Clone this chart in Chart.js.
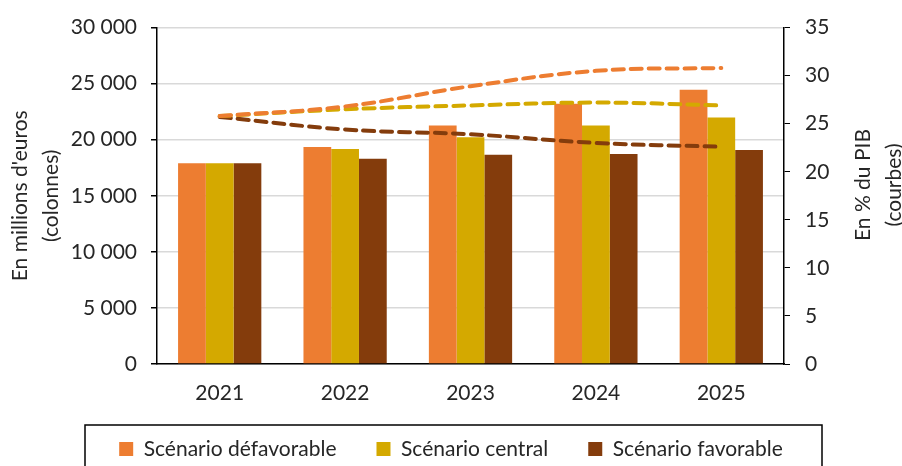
<!DOCTYPE html>
<html><head><meta charset="utf-8">
<script src="https://cdn.jsdelivr.net/npm/chart.js@4"></script>
<style>html,body{margin:0;padding:0;background:#fff}#wrap{width:902px;height:466px}</style>
</head><body><div id="wrap"><canvas id="c" width="902" height="466"></canvas></div>
<script>
const categories = ['2021','2022','2023','2024','2025'];
const barDefavorable = [17900, 19350, 21280, 23220, 24450];
const barCentral = [17900, 19170, 20230, 21280, 21990];
const barFavorable = [17900, 18300, 18650, 18730, 19090];
const pibDefavorable = [25.8, 26.8, 28.9, 30.5, 30.8];
const pibCentral = [25.8, 26.5, 26.9, 27.2, 26.9];
const pibFavorable = [25.7, 24.4, 23.9, 23.0, 22.6];
const seriesNames = ['Scénario défavorable','Scénario central','Scénario favorable'];
const leftTitle = ["En millions d'euros", '(colonnes)'];
const rightTitle = ['En % du PIB', '(courbes)'];

const C1 = '#ED7D31', C2 = '#D4A900', C3 = '#843C0C';
const FONT = 'Lato';
const FS = 21;

const fmt = v => String(v).replace(/\B(?=(\d{3})+(?!\d))/g, ' ');

const extras = {
  id: 'extras',
  afterLayout(chart) {
    const lg = chart.legend;
    if (lg) { lg.top += 3.5; lg.bottom += 3.5; }
    const sx = chart.scales.x;
    if (sx) { sx.bottom = sx.top + 56; }
  },
  afterDraw(chart) {
    const ctx = chart.ctx;
    ctx.save();
    ctx.strokeStyle = '#000';
    ctx.lineWidth = 1.5;
    ctx.strokeRect(85, 425, 737, 60);
    ctx.fillStyle = '#262626';
    ctx.font = FS + 'px ' + FONT;
    ctx.textAlign = 'center';
    ctx.textBaseline = 'middle';
    const cy = 185;
    [[rightTitle[0], 863], [rightTitle[1], 894]].forEach(([t, x]) => {
      ctx.save();
      ctx.translate(x, cy);
      ctx.rotate(-Math.PI / 2);
      ctx.fillText(t, 0, 0);
      ctx.restore();
    });
    ctx.restore();
  }
};

const lineDs = (label, data, color) => ({
  type: 'line', label, data, yAxisID: 'y1', borderColor: color, borderWidth: 4,
  borderDash: [11, 7], borderCapStyle: 'round', pointRadius: 0, tension: 0.4, fill: false, order: 0
});
const barDs = (label, data, color) => ({
  type: 'bar', label, data, yAxisID: 'y', backgroundColor: color, order: 1,
  categoryPercentage: 0.664, barPercentage: 1
});

new Chart(document.getElementById('c'), {
  data: {
    labels: categories,
    datasets: [
      lineDs(seriesNames[0], pibDefavorable, C1),
      lineDs(seriesNames[1], pibCentral, C2),
      lineDs(seriesNames[2], pibFavorable, C3),
      barDs(seriesNames[0], barDefavorable, C1),
      barDs(seriesNames[1], barCentral, C2),
      barDs(seriesNames[2], barFavorable, C3)
    ]
  },
  options: {
    responsive: false,
    animation: false,
    devicePixelRatio: 1,
    layout: { padding: { top: 23, left: 0, right: 0, bottom: 0 } },
    plugins: {
      tooltip: { enabled: false },
      legend: {
        position: 'bottom',
        labels: {
          filter: item => item.datasetIndex >= 3,
          boxWidth: 14, boxHeight: 14,
          padding: 40,
          color: '#262626',
          font: { family: FONT, size: FS }
        }
      }
    },
    scales: {
      x: {
        grid: { display: false, drawTicks: false },
        border: { color: '#000', width: 1.5 },
        ticks: { color: '#262626', font: { family: FONT, size: FS }, padding: 17 },
        afterFit: s => { s.height = 31; }
      },
      y: {
        position: 'left',
        min: 0, max: 30000,
        afterBuildTicks: s => { s.ticks = [0,5000,10000,15000,20000,25000,30000].map(v => ({ value: v })); },
        grid: { color: '#d9d9d9', lineWidth: 1.5, tickLength: 6, tickColor: '#000' },
        border: { color: '#000', width: 1.5 },
        ticks: { color: '#262626', font: { family: FONT, size: FS }, padding: 14, callback: v => fmt(v) },
        title: { display: true, text: leftTitle, color: '#262626', font: { family: FONT, size: FS, lineHeight: 1.5 }, padding: { top: 4, bottom: 0 } },
        afterFit: s => { s.width = 157; }
      },
      y1: {
        position: 'right',
        min: 0, max: 35,
        afterBuildTicks: s => { s.ticks = [0,5,10,15,20,25,30,35].map(v => ({ value: v })); },
        grid: { drawOnChartArea: false, tickLength: 6, tickColor: '#000' },
        border: { color: '#000', width: 1.5 },
        ticks: { color: '#262626', font: { family: FONT, size: FS }, padding: 15 },
        afterFit: s => { s.width = 118; }
      }
    }
  },
  plugins: [extras]
});
</script></body></html>
